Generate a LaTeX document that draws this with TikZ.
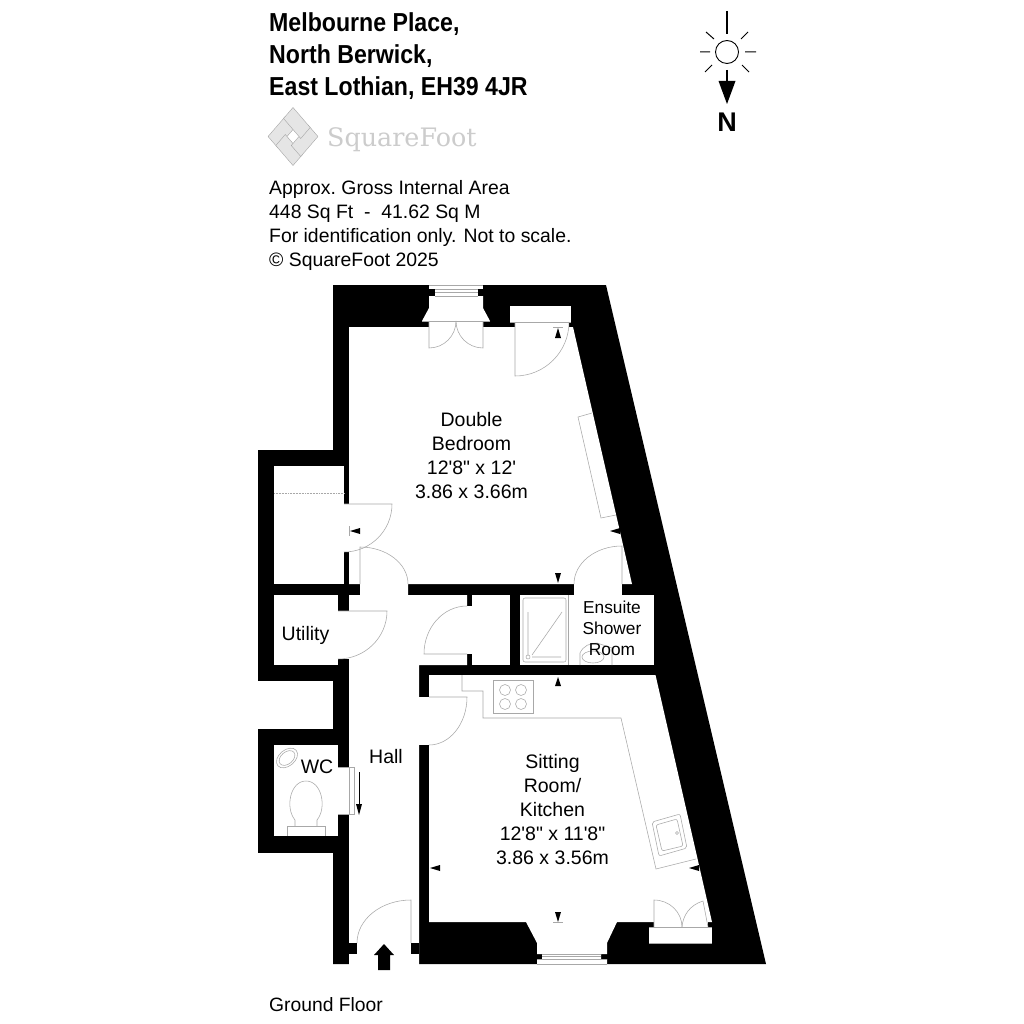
\documentclass[tikz,border=0pt]{standalone}
\usepackage{fontspec}
\setmainfont[Ligatures=TeXOff]{Liberation Sans}
\newfontfamily\titlefont[FakeStretch=0.89]{Liberation Sans}
\newfontfamily\logofont{DejaVu Serif}
\definecolor{fitting}{gray}{0.66}
\tikzset{
    wall/.style={fill=black,draw=none},
    room/.style={fill=white,draw=none},
    fitting/.style={draw=fitting,line width=0.55pt},
    marker/.style={fill=black,draw=none},
    label/.style={align=center,font=\fontsize{19.5}{24}\selectfont,inner sep=0pt},
    infotext/.style={anchor=north west,align=left,inner sep=0pt},
    logopiece/.style={draw=gray!70,fill=gray!20,line width=0.4pt},
}
\begin{document}
\begin{tikzpicture}[x=1pt,y=-1pt]
    \useasboundingbox[fill=white] (0,0) rectangle (1024,1024);
    % outer shell
    \fill[wall] (333,285) -- (606,285) -- (766,964) -- (333,964) -- cycle;
    \fill[wall] (258,450) -- (340,450) -- (340,681) -- (258,681) -- cycle;
    \fill[wall] (258,729) -- (340,729) -- (340,853) -- (258,853) -- cycle;
    % rooms
    \fill[room] (349,327) -- (573,327) -- (632,584) -- (408,584) -- (408,595) -- (360,595) -- (360,584) -- (349,584) -- cycle;
    \fill[room] (574,583) rectangle (622,596);
    \fill[room] (349,595) -- (467,595) -- (467,665) -- (419,665) -- (419,965) -- (349,965) -- cycle;
    \fill[room] (467,606) rectangle (472,654);
    \fill[room] (472,595) rectangle (510,665);
    \fill[room] (520,595) rectangle (654,665);
    \fill[room] (429,675) -- (655.5,675) -- (712,922) -- (429,922) -- cycle;
    \fill[room] (419,697) rectangle (429,745);
    \fill[room] (274,466) rectangle (344,584);
    \fill[room] (344,504) rectangle (349,552);
    \fill[room] (274,595) rectangle (338,665);
    \fill[room] (338,611) rectangle (349,659);
    \fill[room] (274,745) rectangle (338,836);
    \fill[room] (338,767) rectangle (349,814);
    % door stubs at the front door
    \fill[wall] (349,943) rectangle (357,954);
    \fill[wall] (411,943) rectangle (419,954);
    % windows and recesses
    \fill[room] (429,285) rectangle (483,289);
    \fill[room] (435,289) rectangle (478,296);
    \fill[room] (429,296) -- (483,296) -- (483,308) -- (490,321) -- (483,321) -- (483,327) -- (429,327) -- (429,321) -- (422,321) -- (429,308) -- cycle;
    \fill[room] (510,306) rectangle (571,322);
    \fill[room] (515,322) rectangle (569,327);
    \fill[room] (526,922) -- (617,922) -- (607,943) -- (607,954) -- (601,954) -- (601,959) -- (607,959) -- (607,964)
        -- (537,964) -- (537,959) -- (542,959) -- (542,954) -- (537,954) -- (537,943) -- cycle;
    \fill[room] (654,922) rectangle (708,927);
    \fill[room] (649,927) rectangle (712,943);
    % window lines
    \draw[fitting] (429,285) -- (483,285) (435,289) -- (478,289) (435,292) -- (478,292) (435,296) -- (478,296) (422,321) -- (490,321);
    \draw[fitting] (537,964) -- (607,964) (537,959) -- (607,959) (542,956.5) -- (601,956.5) (542,954) -- (601,954);
    \draw[fitting] (510,322) -- (571,322) (649,927) -- (712,927) (649,943) -- (712,943);
    % doors
    \draw[fitting] (429,321) -- (429,348) arc[start angle=90,end angle=0,radius=27];
    \draw[fitting] (483,321) -- (483,348) arc[start angle=90,end angle=180,radius=27];
    \draw[fitting] (515,322) -- (515,376) arc[start angle=90,end angle=0,radius=54];
    \draw[fitting] (344,504) -- (392,504) arc[start angle=0,end angle=90,radius=48];
    \draw[fitting] (360,584) -- (360,547) arc[start angle=-90,end angle=0,x radius=48,y radius=37];
    \draw[fitting] (338,611) -- (387,611) arc[start angle=0,end angle=90,x radius=49,y radius=48];
    \draw[fitting] (467,654) -- (424,654) arc[start angle=180,end angle=270,x radius=43,y radius=48];
    \draw[fitting] (622,584) -- (622,546) arc[start angle=270,end angle=180,x radius=48,y radius=38];
    \draw[fitting] (429,697) -- (467,697) arc[start angle=0,end angle=90,x radius=38,y radius=48];
    \draw[fitting] (411,943) -- (411,900) arc[start angle=270,end angle=180,x radius=54,y radius=43];
    \draw[fitting] (654,927) -- (654,900) arc[start angle=270,end angle=360,x radius=28,y radius=27];
    \draw[fitting] (708,927) -- (703,901) .. controls (690,905) and (683,915) .. (682,927);
    \draw[fitting] (338,767) -- (354,767) -- (354,814) -- (338,814) (349,767) -- (349,814);
    % wardrobe, store shelf and worktop
    \draw[fitting] (592,413) -- (578,417) -- (601,518) -- (616,515);
    \draw[fitting,densely dotted,line width=0.4pt] (274,493) -- (344,493);
    \draw[fitting] (462,675) -- (462,691) -- (483,691) -- (483,718) -- (621,718) -- (656,869) -- (696,859);
    \draw[fitting] (493,680) rectangle (533,713);
    \foreach \hobx in {505,521}
        \foreach \hoby in {690,704}
            \draw[fitting] (\hobx,\hoby) circle[radius=5.5];
    \draw[fitting,rounded corners=2pt] (652,822) -- (680,814) -- (687,848) -- (659,856) -- cycle;
    \draw[fitting,rounded corners=2pt] (656,825) -- (677,819) -- (683,846) -- (662,851) -- cycle;
    \draw[fitting] (677,833) circle[radius=1.5];
    % shower and basin
    \draw[fitting,rounded corners=2pt] (523,598) rectangle (566,662);
    \draw[fitting] (528,612) -- (528,655) (532,657) -- (561,657) (532,655) -- (562,612);
    \draw[fitting] (528,657) circle[radius=2];
    \draw[fitting] (568,595) -- (568,665);
    \draw[fitting] (580,665) -- (580,653) .. controls (583,646) and (590,643) .. (597,643) -- (612,648) -- (612,665);
    \draw[fitting] (593,657) ellipse[x radius=11,y radius=6];
    % WC fittings
    \draw[fitting,rotate around={40:(287,758)}] (287,758) ellipse[x radius=12,y radius=8];
    \draw[fitting,rotate around={40:(287,758)}] (287,758) ellipse[x radius=9,y radius=6];
    \draw[fitting] (287,836) -- (287,826) -- (325,826) -- (325,836);
    \draw[fitting] (295,826) -- (295,820) .. controls (285,808) and (290,781) .. (306,781) .. controls (322,781) and (327,808) .. (317,820) -- (317,826);
    % door markers
    \fill[marker] (558,328) -- (561,338) -- (555,338) -- cycle;
    \fill[marker] (350,531) -- (360,528) -- (360,534) -- cycle;
    \fill[marker] (558,583) -- (555,573) -- (561,573) -- cycle;
    \fill[marker] (610,531) -- (620,534) -- (620,528) -- cycle;
    \fill[marker] (558,677) -- (561,686) -- (555,686) -- cycle;
    \fill[marker] (430,868) -- (440,865) -- (440,871) -- cycle;
    \fill[marker] (689,868) -- (699,871) -- (699,865) -- cycle;
    \fill[marker] (558,922) -- (555,912) -- (561,912) -- cycle;
    \draw[fitting] (553,327) -- (563,327) (349,526) -- (349,536) (553,922) -- (563,922);
    \draw[black,line width=0.5pt] (359,772) -- (359,806);
    \fill[marker] (359,815) -- (356,804) -- (362,804) -- cycle;
    % entrance arrow
    \fill[marker] (384,944) -- (394,955) -- (390,955) -- (390,970) -- (378,970) -- (378,955) -- (374,955) -- cycle;
    % compass
    \draw[line width=2.4pt] (727,11) -- (727,34);
    \draw[line width=0.9pt] (727,52) circle[radius=11.5];
    \draw[line width=1pt] (700,52) -- (710,52) (745,52) -- (756,52) (706,32) -- (714,39) (748,32) -- (741,39) (705,72) -- (712,65) (749,72) -- (742,65);
    \draw[line width=2.4pt] (727,70) -- (727,84);
    \fill[marker] (727,104) -- (718.5,81) -- (735.5,81) -- cycle;
    \node[inner sep=0pt,font=\bfseries\fontsize{27}{27}\selectfont] (northmark) at (727,122) {N};
    % logo
    \foreach \logopoint/\logoangle in {0/0,1/90,2/180,3/270}
        \draw[logopiece,shift={(293,136.5)},xscale=0.86,rotate=\logoangle] (-29,0) -- (-9,-20) -- (2,-9) -- (-18,11) -- cycle;
    \node[inner sep=0pt,anchor=base west,text=gray!40,font=\logofont\fontsize{25.4}{28}\selectfont] (logotext) at (327,147) {SquareFoot};
    % texts
    \node[infotext,font=\titlefont\bfseries\fontsize{26}{32}\selectfont] (address) at (269,12) {Melbourne Place,\\North Berwick,\\East Lothian, EH39 4JR};
    \node[infotext,font=\fontsize{19.4}{24}\selectfont] (areanote) at (269,180) {\frenchspacing Approx. Gross Internal Area\\448 Sq Ft\ \ -\ \ 41.62 Sq M\\For identification only. Not to scale.\\\textcopyright{} SquareFoot 2025};
    \node[label] (bedroom) at (471.5,456) {Double\\Bedroom\\12'8" x 12'\\3.86 x 3.66m};
    \node[label] (sitting) at (552.5,810) {Sitting\\Room/\\Kitchen\\12'8" x 11'8"\\3.86 x 3.56m};
    \node[label,font=\fontsize{17.3}{21}\selectfont] (ensuite) at (612,628) {Ensuite\\Shower\\Room};
    \node[label] (utility) at (305.5,635) {Utility};
    \node[label] (wc) at (317,767) {WC};
    \node[label] (hall) at (386,757) {Hall};
    \node[inner sep=0pt,anchor=base west,font=\fontsize{19.3}{24}\selectfont] (floorname) at (269,1011) {Ground Floor};
\end{tikzpicture}
\end{document}
